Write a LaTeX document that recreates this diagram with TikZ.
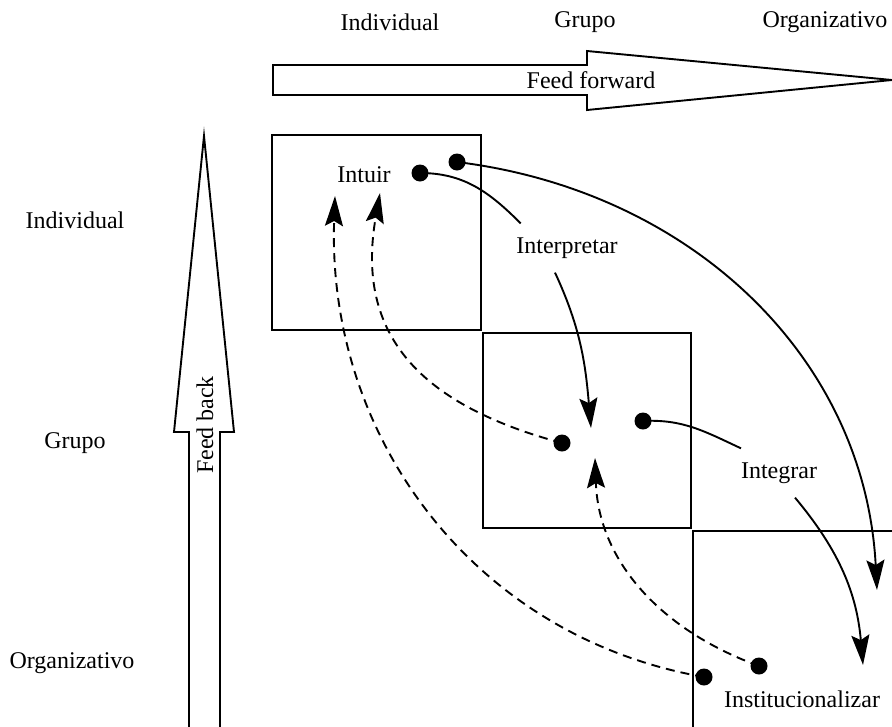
\documentclass[tikz,border=0pt]{standalone}
\usepackage{fontspec}
\setmainfont{Liberation Serif}
\usetikzlibrary{arrows.meta}
\begin{document}
\begin{tikzpicture}[x=1pt,y=-1pt,
  font=\fontsize{24}{28}\selectfont,
  frame/.style={line width=1.9pt},
  bigarrow/.style={line width=1.9pt, line join=miter},
  link/.style={line width=1.9pt, -{Stealth[length=30pt,width=18pt,inset=5pt]}},
  plainlink/.style={line width=1.9pt},
  backlink/.style={link, dash pattern=on 9pt off 6pt},
  dot/.style={circle, fill=black, minimum size=17pt, inner sep=0pt},
  waylabel/.style={inner xsep=2pt, inner ysep=14pt},
  txt/.style={inner sep=0pt}]
\useasboundingbox (0,0) rectangle (892,726);

% column and row headings
\node[txt] (colInd) at (390,22) {Individual};
\node[txt] (colGru) at (585,22) {Grupo};
\node[txt] (colOrg) at (825,22) {Organizativo};
\node[txt] (rowInd) at (75,220) {Individual};
\node[txt] (rowGru) at (75,443) {Grupo};
\node[txt] (rowOrg) at (72,663) {Organizativo};

% feed forward arrow
\draw[bigarrow] (273,65) -- (587,65) -- (587,51) -- (892,80) -- (587,110)
  -- (587,95) -- (273,95) -- cycle;
\node[txt] (ff) at (591,80) {Feed forward};

% feed back arrow
\draw[bigarrow] (189,727) -- (189,432) -- (174,432) -- (204,136) -- (234,432)
  -- (220,432) -- (220,727);
\node[txt, rotate=90] (fb) at (205,425) {Feed back};

% the three levels
\draw[frame] (272,135) rectangle (481,330);
\draw[frame] (483,333) rectangle (691,528);
\draw[frame] (892,531) -- (693,531) -- (693,727);

% process labels
\node[txt] (intuir) at (364,175) {Intuir};
\node[waylabel] (interp) at (567,248) {Interpretar};
\node[waylabel] (integ) at (779,473) {Integrar};
\node[txt] (instit) at (802,699) {Institucionalizar};

% arrow tips
\coordinate (tipGruA) at (591,428);
\coordinate (tipGruB) at (595,458);
\coordinate (tipOrgA) at (863,665);
\coordinate (tipOrgB) at (877,590);
\coordinate (tipIndA) at (380,193);
\coordinate (tipIndB) at (335,196);

% start points
\node[dot] (d1) at (420,173) {};
\node[dot] (d2) at (457,162) {};
\node[dot] (d3) at (562,443) {};
\node[dot] (d4) at (643,421) {};
\node[dot] (d5) at (704,677) {};
\node[dot] (d6) at (759,666) {};

% feed-forward links
\draw[plainlink] (d1.center) to[out=0,in=135] (interp.152);
\draw[link] (interp.244) to[out=-65,in=95] (tipGruA);
\draw[link] (d2.center) to[out=-7,in=93] (tipOrgB);
\draw[plainlink] (d4.center) to[out=3,in=155] (integ.147);
\draw[link] (integ.303) to[out=-50,in=95] (tipOrgA);

% feed-back links
\draw[backlink] (d3.center) to[out=165,in=-100,looseness=1.2] (tipIndA);
\draw[backlink] (d5.center) to[out=170,in=-92] (tipIndB);
\draw[backlink] (d6.center) to[out=160,in=-88] (tipGruB);
\end{tikzpicture}
\end{document}
